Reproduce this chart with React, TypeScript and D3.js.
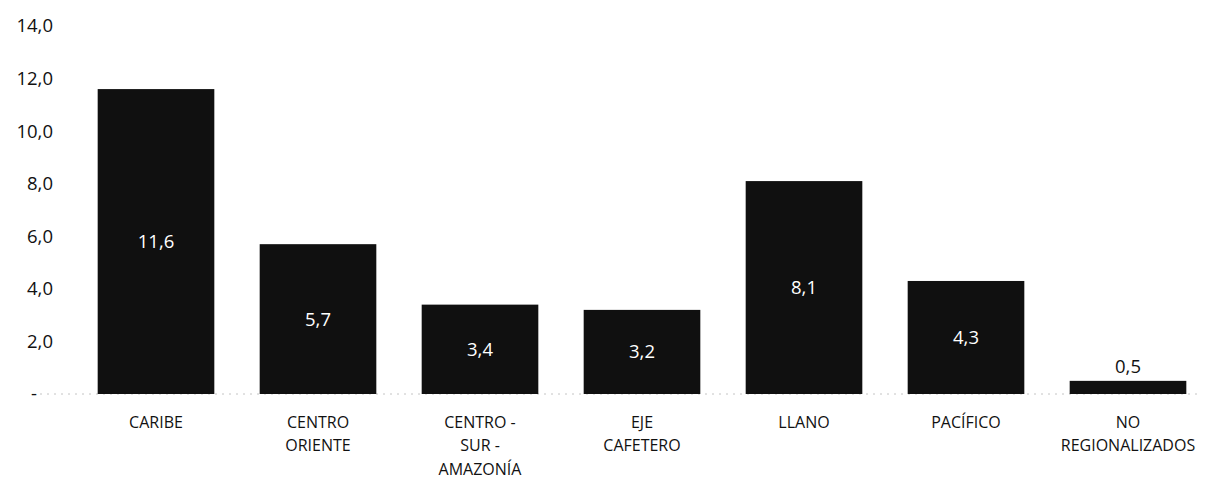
import React from "react";
import * as d3 from "d3";

const categories = [
  ["CARIBE"],
  ["CENTRO", "ORIENTE"],
  ["CENTRO -", "SUR -", "AMAZONÍA"],
  ["EJE", "CAFETERO"],
  ["LLANO"],
  ["PACÍFICO"],
  ["NO", "REGIONALIZADOS"],
];
const values = [11.6, 5.7, 3.4, 3.2, 8.1, 4.3, 0.5];
const yTicks = [0, 2, 4, 6, 8, 10, 12, 14];

const width = 1207;
const height = 481;
const font = "'Open Sans', 'Noto Sans', sans-serif";

const fmt = (v: number) => (v === 0 ? "-" : v.toFixed(1).replace(".", ","));

export default function App() {
  const x = d3
    .scaleBand<number>()
    .domain(values.map((_, i) => i))
    .range([75, 1209])
    .paddingInner(0.28)
    .paddingOuter(0.14);
  const y = d3.scaleLinear().domain([0, 14]).range([394, 26]);

  return (
    <svg
      width={width}
      height={height}
      style={{ position: "absolute", left: 0, top: 0, background: "#fff" }}
      fontFamily={font}
    >
      {/* baseline */}
      <line
        x1={40}
        x2={1200}
        y1={y(0)}
        y2={y(0)}
        stroke="#c4c4c4"
        strokeWidth={1}
        strokeDasharray="2 5"
      />

      {/* y tick labels */}
      {yTicks.map((t) => (
        <text
          key={t}
          x={t === 0 ? 37 : 53}
          y={y(t)}
          dy="0.35em"
          textAnchor="end"
          fontSize={18.5}
          fill="#111"
        >
          {fmt(t)}
        </text>
      ))}

      {/* bars */}
      {values.map((v, i) => {
        const bx = x(i)!;
        const bw = x.bandwidth();
        const top = y(v);
        const inside = v > 1;
        return (
          <g key={i}>
            <rect x={bx} y={top} width={bw} height={y(0) - top} fill="#101010" />
            <text
              x={bx + bw / 2}
              y={inside ? (top + y(0)) / 2 : top - 14}
              dy="0.35em"
              textAnchor="middle"
              fontSize={18.5}
              fill={inside ? "#fff" : "#111"}
            >
              {fmt(v)}
            </text>
            {categories[i].map((line, j) => (
              <text
                key={j}
                x={bx + bw / 2}
                y={422 + j * 23.5}
                dy="0.35em"
                textAnchor="middle"
                fontSize={16}
                fill="#111"
              >
                {line}
              </text>
            ))}
          </g>
        );
      })}
    </svg>
  );
}
